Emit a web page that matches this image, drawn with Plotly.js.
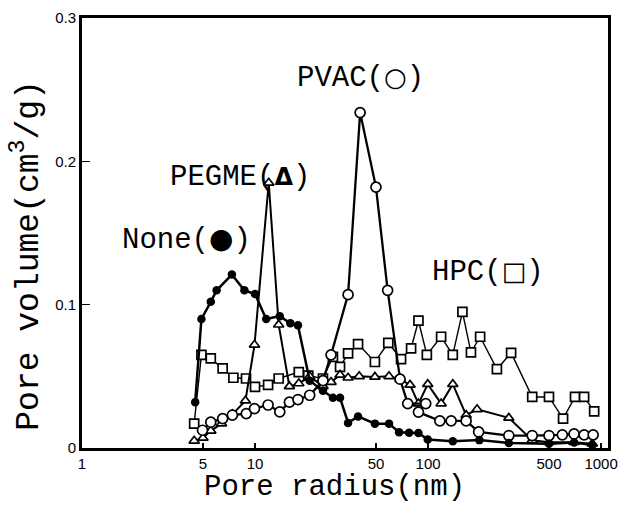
<!DOCTYPE html>
<html>
<head>
<meta charset="utf-8">
<script src="https://cdn.plot.ly/plotly-3.0.1.min.js"></script>
<style>html,body{margin:0;padding:0;background:#fff;}#chart{width:625px;height:506px;}</style>
</head>
<body>
<div id="chart"></div>
<script>
// Pore radius (nm) and pore volume (cm3/g)
var noneX = [4.51, 4.9, 5.55, 6.0, 7.35, 8.68, 10.0, 11.6, 13.9, 16.0, 17.7, 20.7, 24.7, 28.2, 31.0, 34.5, 39.4, 49.3, 59.5, 68, 77.7, 88, 99.6, 139, 198, 293, 500, 698, 891];
var noneY = [0.032, 0.090, 0.102, 0.110, 0.121, 0.110, 0.1074, 0.090, 0.092, 0.087, 0.0857, 0.047, 0.040, 0.035, 0.035, 0.0175, 0.022, 0.017, 0.017, 0.011, 0.0107, 0.0105, 0.0059, 0.0047, 0.0055, 0.0035, 0.003, 0.0038, 0.002];

var pegmeX = [4.45, 5.0, 5.55, 6.4, 7.4, 8.8, 9.93, 12.0, 13.7, 15.8, 17.9, 20.7, 24.7, 27.5, 31, 34.5, 40, 49.3, 59.5, 68.9, 78.7, 88, 99.6, 119, 139, 166, 192, 293, 400, 500, 698, 890];
var pegmeY = [0.005, 0.007, 0.012, 0.017, 0.0235, 0.033, 0.072, 0.185, 0.086, 0.043, 0.045, 0.050, 0.043, 0.046, 0.051, 0.049, 0.050, 0.0496, 0.050, 0.048, 0.044, 0.031, 0.0445, 0.031, 0.0445, 0.0229, 0.027, 0.021, 0.0054, 0.004, 0.004, 0.003];

var pvacX = [4.97, 5.55, 6.5, 7.4, 8.9, 9.93, 11.9, 13.9, 15.8, 17.7, 20.7, 24.7, 27.5, 34.5, 40.5, 50, 58.4, 68.9, 76.3, 97, 88, 117, 136, 166, 196, 293, 400, 500, 597, 698, 798, 900];
var pvacY = [0.0124, 0.018, 0.0205, 0.023, 0.024, 0.0275, 0.030, 0.0252, 0.032, 0.0338, 0.0368, 0.047, 0.065, 0.107, 0.234, 0.182, 0.110, 0.048, 0.031, 0.031, 0.025, 0.0189, 0.0189, 0.0189, 0.0112, 0.0087, 0.0087, 0.0087, 0.0092, 0.0098, 0.0092, 0.0092];

var hpcX = [4.45, 4.9, 5.55, 6.5, 7.5, 8.87, 10, 11.9, 13.7, 17.9, 20.3, 24.7, 28.2, 31, 34.5, 39.4, 49.3, 58.9, 69.8, 79.8, 88, 98.4, 119, 139, 158, 177, 200, 250, 302, 400, 500, 603, 707, 798, 912];
var hpcY = [0.017, 0.065, 0.0625, 0.0555, 0.049, 0.0485, 0.0426, 0.044, 0.0485, 0.053, 0.0505, 0.0485, 0.0636, 0.0566, 0.066, 0.0725, 0.060, 0.0734, 0.062, 0.0695, 0.0888, 0.065, 0.0776, 0.065, 0.095, 0.0667, 0.0776, 0.055, 0.0664, 0.0356, 0.0356, 0.0205, 0.0356, 0.0356, 0.0256];

var xTickVals = [1, 5, 10, 50, 100, 500, 1000];
var xTickText = ['1', '5', '10', '50', '100', '500', '1000'];
var yTickVals = [0, 0.1, 0.2, 0.3];
var yTickText = ['0', '0.1', '0.2', '0.3'];

var openMarker = function(sym, size){ return {symbol: sym, size: size, color: '#fff', line: {color: '#000', width: 1.7}}; };

var traces = [
  {name: 'HPC', x: hpcX, y: hpcY, mode: 'lines+markers', line: {color: '#000', width: 1.4}, marker: openMarker('square', 9)},
  {name: 'PEGME', x: pegmeX, y: pegmeY, mode: 'lines+markers', line: {color: '#000', width: 2}, marker: openMarker('triangle-up', 9)},
  {name: 'PVAC', x: pvacX, y: pvacY, mode: 'lines+markers', line: {color: '#000', width: 2.3}, marker: openMarker('circle', 10)},
  {name: 'None', x: noneX, y: noneY, mode: 'lines+markers', line: {color: '#000', width: 2.5}, marker: {symbol: 'circle', size: 8.5, color: '#000'}}
];

var mono = 'Liberation Mono, Courier New, DejaVu Sans Mono, monospace';
var narrow = 'Liberation Sans Narrow, Arial Narrow, Liberation Sans, Arial, sans-serif';
var sym = function(ch, size){ return '<span style="font-family:DejaVu Sans;font-size:' + size + 'px"><b>' + ch + '</b></span>'; };

var layout = {
  width: 625, height: 506,
  margin: {l: 82, r: 17, t: 18, b: 58},
  paper_bgcolor: '#fff', plot_bgcolor: '#fff',
  showlegend: false,
  xaxis: {
    type: 'log', range: [0, 3.04],
    tickmode: 'array', tickvals: xTickVals, ticktext: xTickText,
    ticks: 'inside', ticklen: 5, tickwidth: 1.5, tickcolor: '#000',
    showline: true, linecolor: '#000', linewidth: 3, mirror: true,
    showgrid: false, zeroline: false,
    tickfont: {family: narrow, size: 15, color: '#000'}
  },
  yaxis: {
    range: [0, 0.3],
    tickmode: 'array', tickvals: yTickVals, ticktext: yTickText,
    ticks: 'inside', ticklen: 8, tickwidth: 1.5, tickcolor: '#000',
    showline: true, linecolor: '#000', linewidth: 3, mirror: true,
    showgrid: false, zeroline: false,
    tickfont: {family: narrow, size: 15, color: '#000'}
  },
  annotations: [
    {text: 'Pore radius(nm)', xref: 'paper', yref: 'paper', x: 0.48, y: -0.093, xanchor: 'center', yanchor: 'middle', showarrow: false, font: {family: mono, size: 29, color: '#000'}},
    {text: 'Pore volume(cm<sup>3</sup>/g)', xref: 'paper', yref: 'paper', x: -0.105, y: 0.449, xanchor: 'center', yanchor: 'middle', textangle: -90, showarrow: false, font: {family: mono, size: 33, color: '#000'}},
    {text: 'PVAC(' + sym('○', 26) + ')', xref: 'paper', yref: 'paper', x: 0.405, y: 0.86, xanchor: 'left', yanchor: 'middle', showarrow: false, font: {family: mono, size: 29, color: '#000'}},
    {text: 'PEGME(' + sym('Δ', 24) + ')', xref: 'paper', yref: 'paper', x: 0.1635, y: 0.628, xanchor: 'left', yanchor: 'middle', showarrow: false, font: {family: mono, size: 29, color: '#000'}},
    {text: 'None(' + sym('●', 28) + ')', xref: 'paper', yref: 'paper', x: 0.072, y: 0.484, xanchor: 'left', yanchor: 'middle', showarrow: false, font: {family: mono, size: 29, color: '#000'}},
    {text: 'HPC(' + sym('□', 26) + ')', xref: 'paper', yref: 'paper', x: 0.662, y: 0.409, xanchor: 'left', yanchor: 'middle', showarrow: false, font: {family: mono, size: 29, color: '#000'}}
  ]
};

Plotly.newPlot('chart', traces, layout, {staticPlot: true, displayModeBar: false});
</script>
</body>
</html>
